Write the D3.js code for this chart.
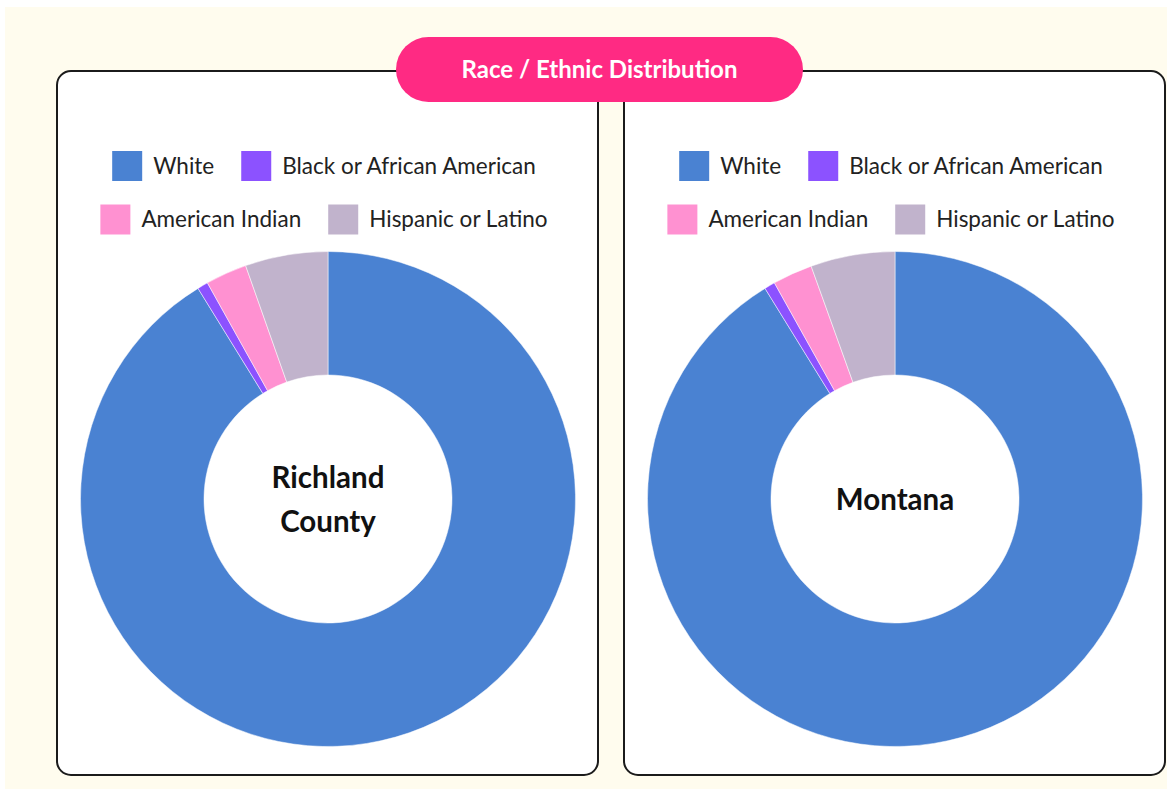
<!DOCTYPE html>
<html><head><meta charset="utf-8">
<script src="https://cdn.jsdelivr.net/npm/d3@7"></script>
<style>html,body{margin:0;padding:0;background:#fff;}svg{display:block;font-family:Lato,"Open Sans",sans-serif;}</style>
</head><body>
<svg id="c" width="1167" height="789"></svg>
<script>
const title = "Race / Ethnic Distribution";
const categories = ["White", "Black or African American", "American Indian", "Hispanic or Latino"];
const colors = ["#4a82d2", "#8c52ff", "#ff91d1", "#c1b3cc"];
const regions = ["Richland County", "Montana"];
const regionLabelLines = [["Richland", "County"], ["Montana"]];
const richlandValues = [91.2, 0.7, 2.7, 5.4];
const montanaValues = [91.2, 0.7, 2.6, 5.5];
const seriesValues = [richlandValues, montanaValues];

const W = 1167, H = 789;
const svg = d3.select("#c");
svg.append("rect").attr("x", 5).attr("y", 7).attr("width", W - 5).attr("height", H - 7).attr("fill", "#fffcee");

const panelW = 541, panelY = 71, panelH = 704, panelXs = [57, 624];
const pie = d3.pie().sort(null).value(d => d);
const arc = d3.arc().innerRadius(124).outerRadius(247.5);
const color = d3.scaleOrdinal().domain(categories).range(colors);

panelXs.forEach((px, i) => {
  const g = svg.append("g").attr("transform", `translate(${px},${panelY})`);
  g.append("rect").attr("width", panelW).attr("height", panelH).attr("rx", 14)
    .attr("fill", "#fff").attr("stroke", "#1b1b1b").attr("stroke-width", 2);

  const cx = 271, cy = 428;
  // legend
  const rows = [[0, 1], [2, 3]];
  const rowY = [95, 148.5];
  rows.forEach((row, ri) => {
    const lg = g.append("g");
    let x = 0;
    row.forEach((ci, k) => {
      const item = lg.append("g").attr("transform", `translate(${x},0)`);
      item.append("rect").attr("x", 0).attr("y", rowY[ri] - 15).attr("width", 30).attr("height", 30)
        .attr("fill", color(categories[ci]));
      const t = item.append("text").attr("x", 41).attr("y", rowY[ri]).attr("dy", "0.35em")
        .attr("font-size", 22.5).attr("fill", "#222").text(categories[ci]);
      x += 41 + t.node().getComputedTextLength() + 27;
    });
    const totalW = x - 27;
    lg.attr("transform", `translate(${cx - 4 - totalW / 2},0)`);
  });

  const dg = g.append("g").attr("transform", `translate(${cx},${cy})`);
  dg.selectAll("path").data(pie(seriesValues[i])).join("path")
    .attr("d", arc).attr("fill", (d, j) => color(categories[j]))
    .attr("stroke", "#fff").attr("stroke-opacity", 0.5).attr("stroke-width", 1);

  const lines = regionLabelLines[i];
  const lh = 44;
  lines.forEach((ln, k) => {
    dg.append("text").attr("x", 0).attr("y", (k - (lines.length - 1) / 2) * lh + 1)
      .attr("dy", "0.35em").attr("text-anchor", "middle")
      .attr("font-size", 29.5).attr("font-weight", "bold").attr("fill", "#111").text(ln);
  });
});

// title pill
const pill = svg.append("g").attr("transform", "translate(599.5,69.5)");
pill.append("rect").attr("x", -203.5).attr("y", -32.5).attr("width", 407).attr("height", 65).attr("rx", 32.5)
  .attr("fill", "#ff2a83");
pill.append("text").attr("text-anchor", "middle").attr("dy", "0.35em")
  .attr("font-size", 24).attr("font-weight", "bold").attr("fill", "#fff").text(title);
</script>
</body></html>
